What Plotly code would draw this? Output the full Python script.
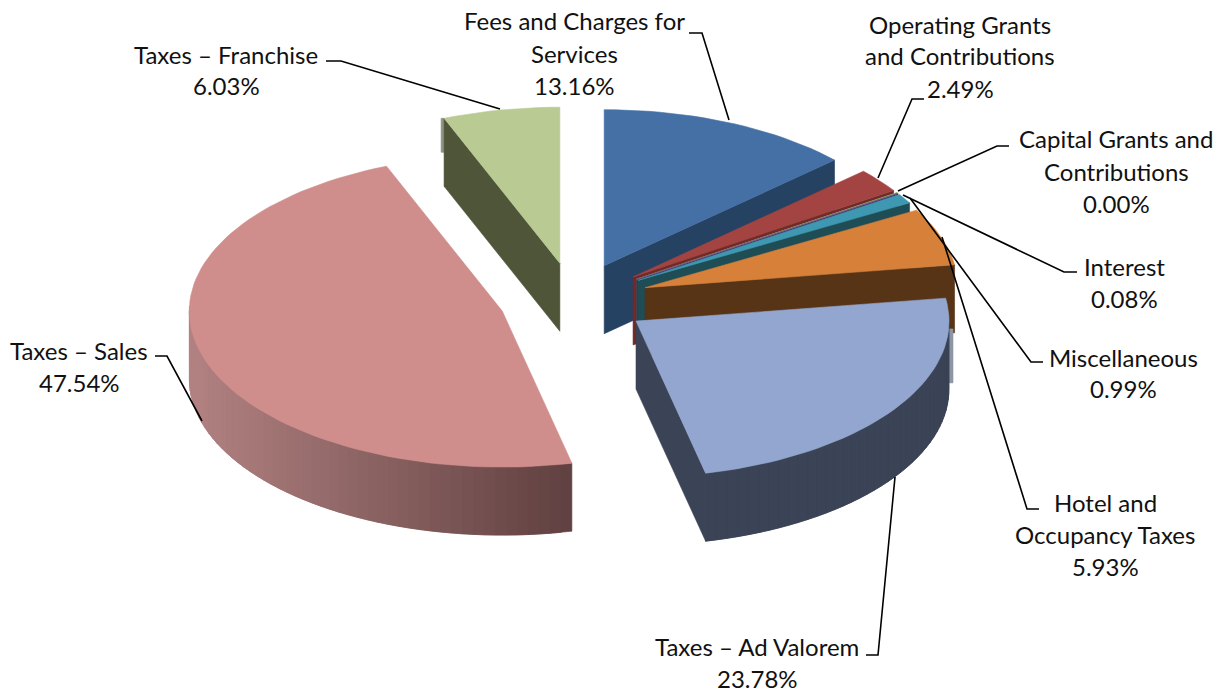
import numpy as np
import plotly.graph_objects as go

# ---- data ----
categories = ["Fees and Charges for Services", "Operating Grants and Contributions",
              "Capital Grants and Contributions", "Interest", "Miscellaneous",
              "Hotel and Occupancy Taxes", "Taxes – Ad Valorem", "Taxes – Sales", "Taxes – Franchise"]
values = [13.16, 2.49, 0.00, 0.08, 0.99, 5.93, 23.78, 47.54, 6.03]
label_lines = [["Fees and Charges for", "Services"], ["Operating Grants", "and Contributions"],
               ["Capital Grants and", "Contributions"], ["Interest"], ["Miscellaneous"],
               ["Hotel and", "Occupancy Taxes"], ["Taxes – Ad Valorem"], ["Taxes – Sales"], ["Taxes – Franchise"]]

# ---- style ----
top_colors = ["#4570a6", "#a34442", "#9bbb59", "#7a5f9c", "#3f98b1", "#d6803a", "#92a6cf", "#cf8d8c", "#b9ca93"]
wall_colors = ["#264262", "#702a28", "#5a6e34", "#44335a", "#1f4d56", "#583417", "#3b4356", "#604040", "#4f5539"]
wall_light = ["#264262", "#702a28", "#5a6e34", "#44335a", "#1f4d56", "#583417", "#3b4356", "#b38282", "#4f5539"]

W, H = 1229, 694
CX, CY, RX, RY = 574.0, 300.0, 313.0, 156.0   # pie placement in the page, px
EXPLODE = 0.24
DEPTH = 68.0 / RY
# label centre x and first-line y, px
label_pos = [(574, 21), (960, 24), (1116, 139), (1124, 266), (1123, 357), (1105, 502), (757, 646), (79, 350), (226, 54)]
LINE_H = 32
FONT = dict(family="Lato", size=24, color="#111111")
# leader polylines in page px
leaders = [[(689, 33), (702, 33), (729, 120)], [(924, 99), (912, 99), (878, 178)],
           [(1009, 146), (997, 146), (898, 191)], [(1077, 272), (1064, 272), (903, 195)],
           [(1043, 362), (1031, 362), (910, 198)], [(1039, 509), (1027, 509), (942, 237)],
           [(866, 655), (878, 655), (895, 477)], [(155, 356), (167, 356), (202, 421)],
           [(326, 61), (341, 61), (500, 109)]]


def hex_rgb(c):
    return np.array([int(c[i:i + 2], 16) for i in (1, 3, 5)], float)


def mix(a, b, t):
    r = hex_rgb(a) * (1 - t) + hex_rgb(b) * t
    return "rgb(%d,%d,%d)" % tuple(r.round())


fig = go.Figure()


def poly(xs, ys, color, name):
    fig.add_trace(go.Scatter(x=list(xs) + [xs[0]], y=list(ys) + [ys[0]], mode="lines", fill="toself",
                             fillcolor=color, line=dict(color=color, width=0.6),
                             hoverinfo="skip", showlegend=False, name=name))


total = sum(values)
edges = np.concatenate([[0], np.cumsum(values)]) / total * 2 * np.pi
for i, cat in enumerate(categories):
    a0, a1 = edges[i], edges[i + 1]
    mid = (a0 + a1) / 2
    ax, ay = EXPLODE * np.sin(mid), EXPLODE * np.cos(mid)
    n = max(2, int(np.degrees(a1 - a0) / 2))
    th = np.linspace(a0, a1, n + 1)
    px, py = ax + np.sin(th), ay + np.cos(th)

    # pale slivers at the silhouette, as the 3-D render leaves them
    if a0 < np.pi / 2 < a1:
        sx = ax + 1 + 1.5 / RX
        poly([sx - 2.5 / RX, sx + 2.5 / RX, sx + 2.5 / RX, sx - 2.5 / RX],
             [ay - 0.05, ay - 0.05, ay - DEPTH + 0.04, ay - DEPTH + 0.04], "#8c96a6", cat)
    if a0 > 3 * np.pi / 2:
        sx = px[0] - 1.5 / RX
        poly([sx - 1.5 / RX, sx + 1.5 / RX, sx + 1.5 / RX, sx - 1.5 / RX],
             [py[0], py[0], py[0] - DEPTH / 2, py[0] - DEPTH / 2], "#8d9384", cat)

    # radial cut walls facing the viewer
    if np.sin(a1) > 1e-6:
        poly([ax, px[-1], px[-1], ax], [ay, py[-1], py[-1] - DEPTH, ay - DEPTH], wall_colors[i], cat)
    if np.sin(a0) < -1e-6:
        poly([ax, px[0], px[0], ax], [ay, py[0], py[0] - DEPTH, ay - DEPTH], wall_colors[i], cat)
    # outer rim, shaded segment by segment, each overlapping the next to hide seams
    for k in range(n):
        t0, t1 = th[k], th[k + 1]
        mt = (t0 + t1) / 2
        if np.pi / 2 <= mt <= 3 * np.pi / 2:
            xm = np.sin(mt)
            col = mix(wall_colors[i], wall_light[i], float(np.clip((0.22 - xm) / 1.22, 0, 1)))
            e = min(k + 2, n)
            poly([px[k], px[e], px[e], px[k]],
                 [py[k], py[e], py[e] - DEPTH, py[k] - DEPTH], col, cat)
    # top face
    poly([ax] + list(px), [ay] + list(py), top_colors[i], cat)

# leaders
for pts in leaders:
    path = "M " + " L ".join(f"{x / W:.5f} {1 - y / H:.5f}" for x, y in pts)
    fig.add_shape(type="path", path=path, xref="paper", yref="paper",
                  line=dict(color="black", width=1.6), layer="above")

# labels
for i, lines in enumerate(label_lines):
    cx, y0 = label_pos[i]
    for j, txt in enumerate(lines + [f"{values[i]:.2f}%"]):
        fig.add_annotation(text=txt, x=cx / W, y=1 - (y0 + j * LINE_H) / H, xref="paper", yref="paper",
                           showarrow=False, xanchor="center", yanchor="middle", font=FONT, borderpad=0)

fig.update_layout(width=W, height=H, margin=dict(l=0, r=0, t=0, b=0), paper_bgcolor="white",
                  plot_bgcolor="white", showlegend=False,
                  xaxis=dict(visible=False, range=[-CX / RX, (W - CX) / RX], domain=[0, 1], fixedrange=True),
                  yaxis=dict(visible=False, range=[-(H - CY) / RY, CY / RY], domain=[0, 1], fixedrange=True))
fig.write_html("out.html", config={"displayModeBar": False}, post_script="document.body.style.margin='0';")
